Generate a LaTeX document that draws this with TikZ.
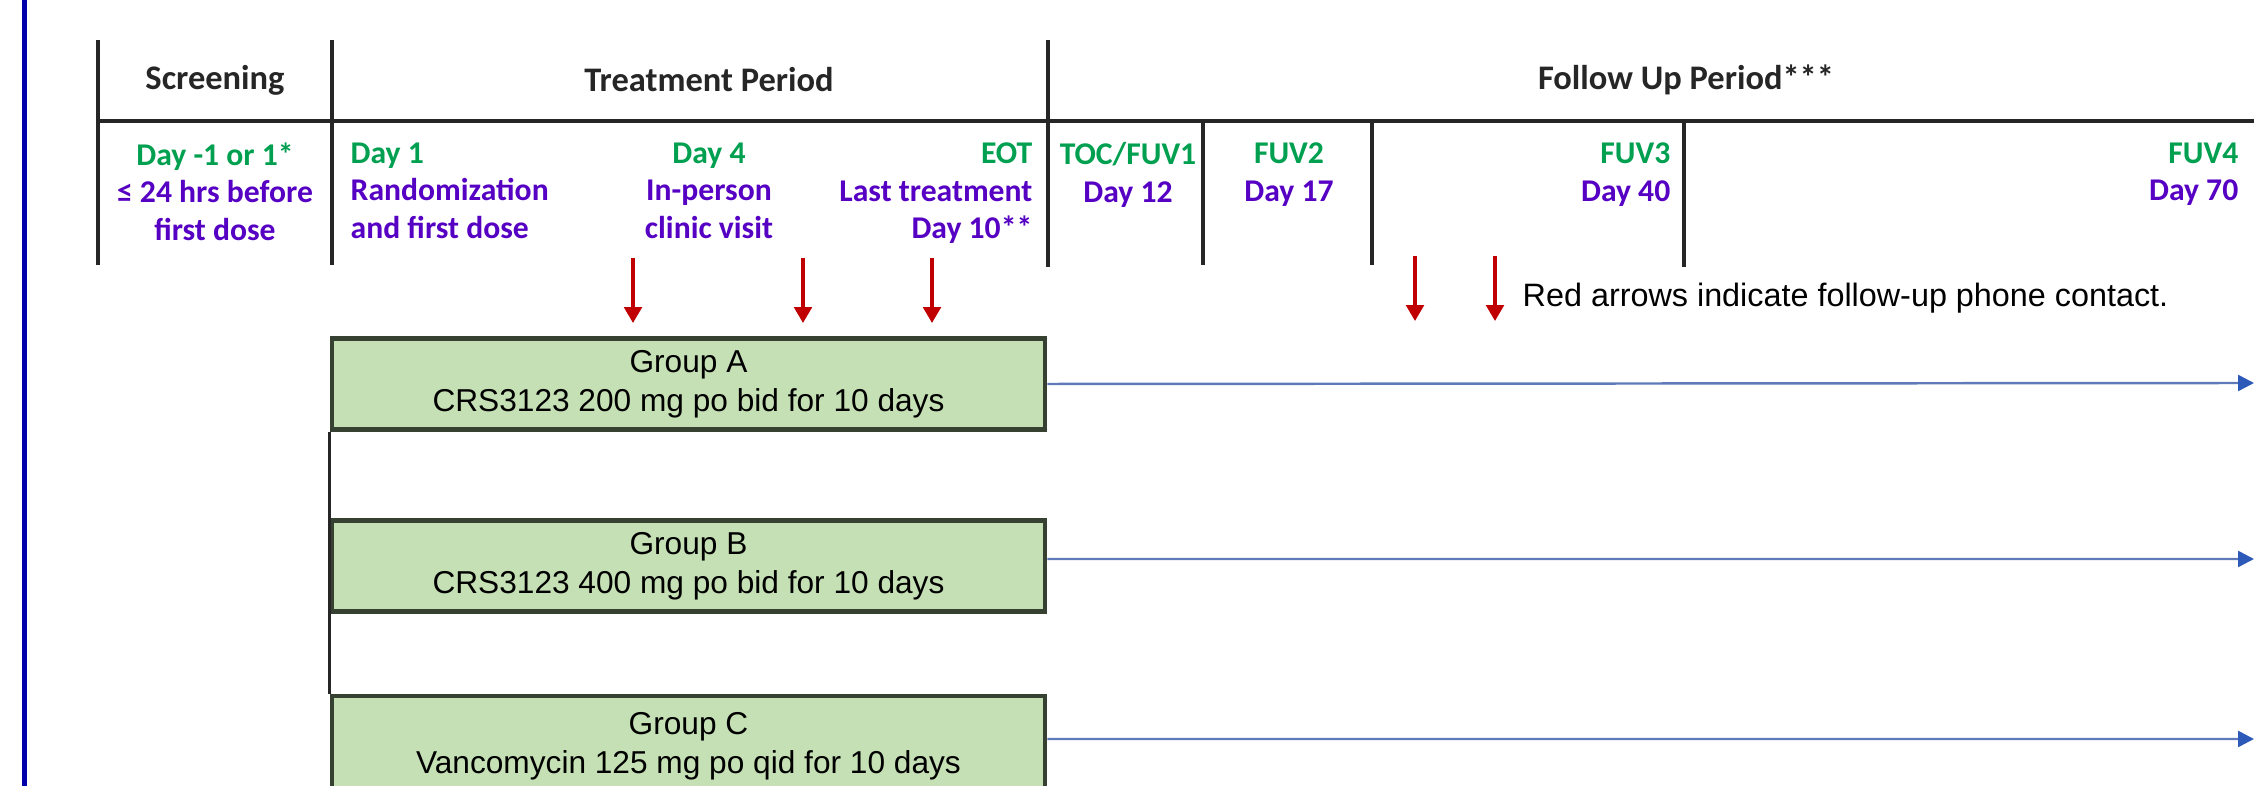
\documentclass[tikz,border=0pt]{standalone}
\usepackage{fontspec}
\setmainfont{Carlito}
\newfontfamily\arialfont{Liberation Sans}
\usetikzlibrary{arrows.meta}

\definecolor{daygreen}{RGB}{0,160,80}
\definecolor{daypurple}{RGB}{85,0,195}
\definecolor{boxgreen}{RGB}{197,224,180}
\definecolor{boxline}{RGB}{55,65,50}
\definecolor{redarrow}{RGB}{192,0,0}
\definecolor{bluearrow}{RGB}{95,122,185}
\definecolor{bluetip}{RGB}{45,90,185}
\definecolor{frameblue}{RGB}{0,0,170}

\newcommand{\dg}[1]{\textcolor{daygreen}{#1}}

\begin{document}
\begin{tikzpicture}[x=0.01cm,y=-0.01cm,
  grid/.style={line width=1pt,black!85},
  head/.style={font=\fontsize{9.8}{12}\selectfont\bfseries,text=black!85,inner sep=0pt},
  visit/.style={font=\fontsize{9}{10.7}\selectfont\bfseries,text=daypurple,inner sep=0pt},
  group/.style={draw=boxline,line width=1.2pt,fill=boxgreen,minimum width=7.13cm,
    minimum height=0.91cm,align=center,font=\arialfont\fontsize{9}{11}\selectfont},
  phone/.style={draw=redarrow,line width=0.9pt,-{Triangle[width=5pt,length=4.5pt]}},
  track/.style={draw=bluearrow,line width=0.7pt,-{Triangle[width=4.5pt,length=4.5pt,color=bluetip]}}]
\useasboundingbox (0,0) rectangle (2254,786);
\fill[frameblue] (22,0) rectangle (27,786);

% table of periods and visits
\draw[grid] (98,40) -- (98,265);
\draw[grid] (332,40) -- (332,265);
\draw[grid] (1048,40) -- (1048,267);
\draw[grid] (98,121) -- (2254,121);
\draw[grid] (1203,121) -- (1203,265);
\draw[grid] (1372,121) -- (1372,265);
\draw[grid] (1684,121) -- (1684,267);

\node[head] (screening) at (215,80) {Screening};
\node[head] (treatment) at (709,80) {Treatment Period};
\node[head] (followup) at (1686,80) {Follow Up Period***};

\node[visit,anchor=north,align=center] (dayscr) at (215,142)
  {\dg{Day -1 or 1*}\\≤ 24 hrs before\\first dose};
\node[visit,anchor=north west,align=left] (day1) at (350,142)
  {\dg{Day 1}\\Randomization\\and first dose};
\node[visit,anchor=north,align=center] (day4) at (709,142)
  {\dg{Day 4}\\In-person\\clinic visit};
\node[visit,anchor=north east,align=right] (eot) at (1033,142)
  {\dg{EOT}\\Last treatment\\Day 10**};
\node[visit,anchor=north,align=center] (fuv1) at (1128,142)
  {\dg{TOC/FUV1}\\Day 12};
\node[visit,anchor=north,align=center] (fuv2) at (1289,142)
  {\dg{FUV2}\\Day 17};
\node[visit,anchor=north east,align=right] (fuv3) at (1671,142)
  {\dg{FUV3}\\Day 40};
\node[visit,anchor=north east,align=right] (fuv4) at (2239,142)
  {\dg{FUV4}\\Day 70};

% phone contacts
\draw[phone] (633,258) -- (633,323);
\draw[phone] (803,258) -- (803,323);
\draw[phone] (932,258) -- (932,323);
\draw[phone] (1415,256) -- (1415,321);
\draw[phone] (1495,256) -- (1495,321);
\node[anchor=west,inner sep=0pt,font=\arialfont\fontsize{9.2}{11}\selectfont] (legend) at (1522,298)
  {Red arrows indicate follow-up phone contact.};

% treatment groups
\node[group] (grpA) at (688.5,384) {Group A\\CRS3123 200 mg po bid for 10 days};
\node[group] (grpB) at (688.5,566) {Group B\\CRS3123 400 mg po bid for 10 days};
\node[group,minimum height=1cm] (grpC) at (688.5,746) {Group C\\Vancomycin 125 mg po qid for 10 days};
\draw[grid] (grpA.south west) -- (grpC.north west);

\coordinate (endA) at (2254,383);
\coordinate (endB) at (2254,559);
\coordinate (endC) at (2254,739);
\draw[track] (grpA.east) -- (endA);
\draw[track] ([yshift=0.07cm]grpB.east) -- (endB);
\draw[track] ([yshift=0.07cm]grpC.east) -- (endC);
\end{tikzpicture}
\end{document}
